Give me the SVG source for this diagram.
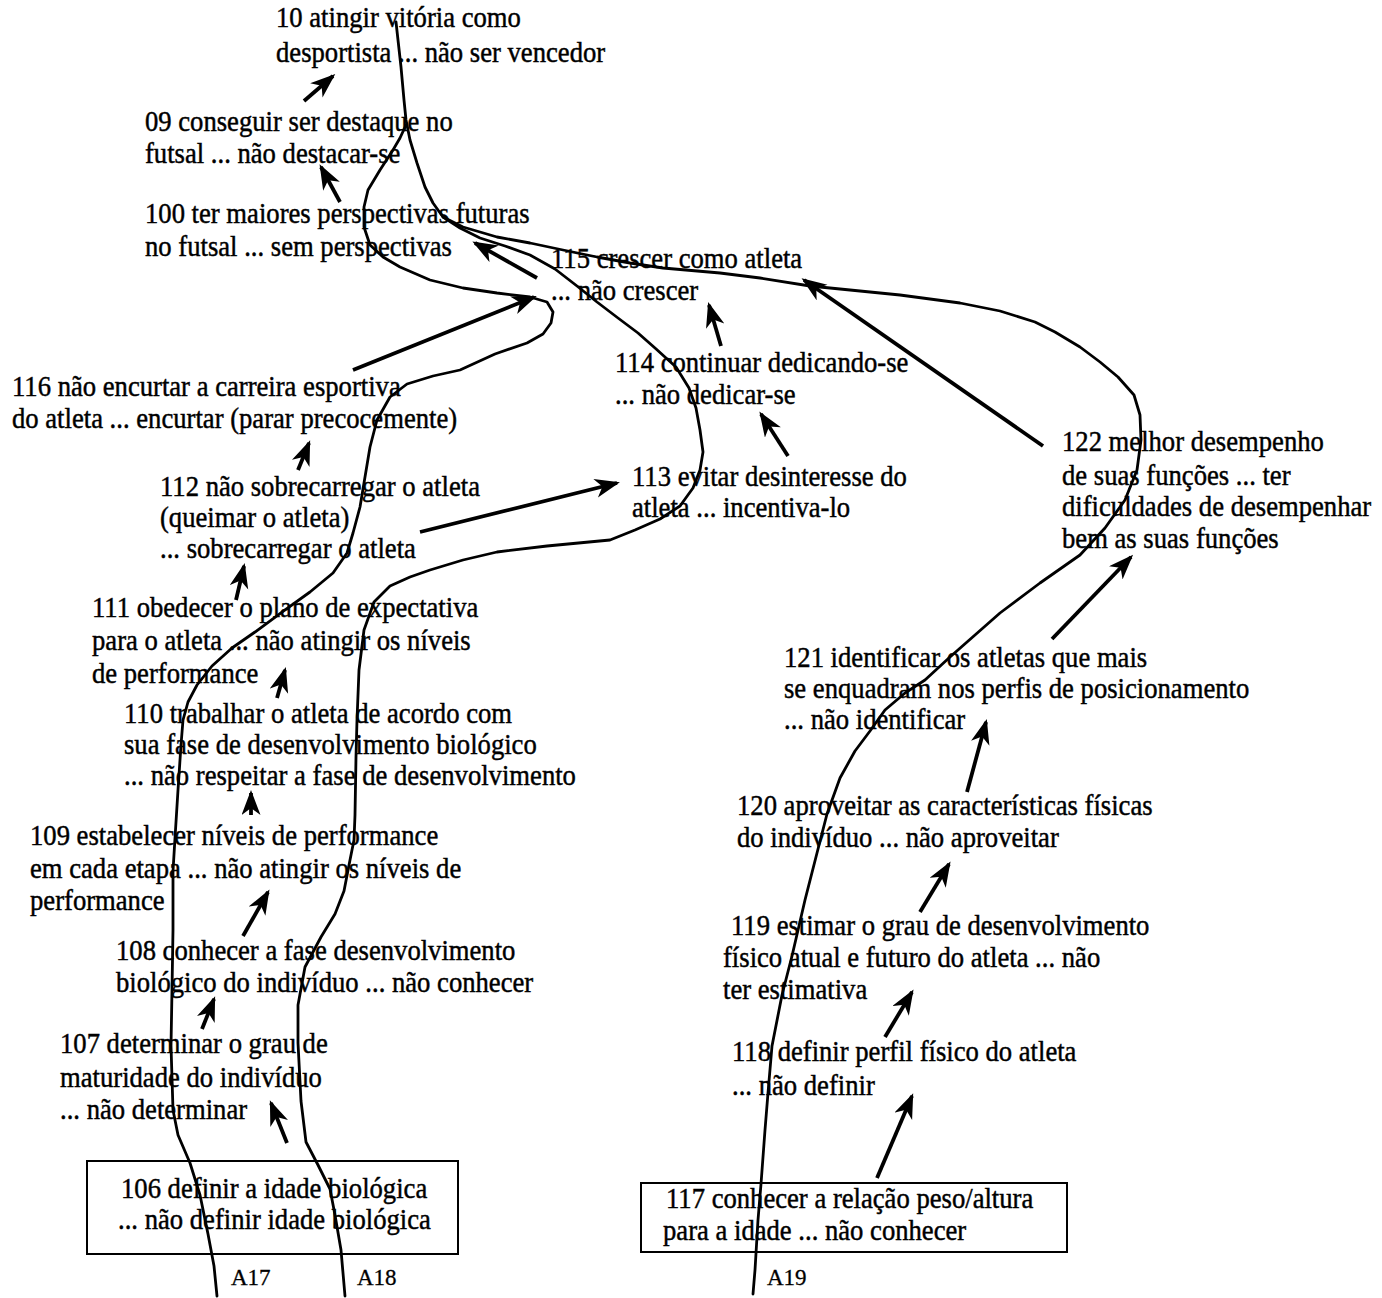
<svg xmlns="http://www.w3.org/2000/svg" width="1382" height="1298" viewBox="0 0 1382 1298">
  <style>
    text { font-family: "Liberation Serif", "Times New Roman", serif; font-size: 28.5px; fill: #000; stroke: #000; stroke-width: 0.45; }
    .lbl { font-size: 23px; stroke-width: 0.3; }
    .box { fill: none; stroke: #000; stroke-width: 2; }
    .route { fill: none; stroke: #000; stroke-width: 2.8; stroke-linejoin: round; stroke-linecap: round; }
    .arrow { fill: none; stroke: #000; stroke-width: 3.8; marker-end: url(#head); }
  </style>
  <defs>
    <marker id="head" markerUnits="userSpaceOnUse" markerWidth="27" markerHeight="20" refX="22" refY="9.5" orient="auto">
      <path d="M0,0 L25,9.5 L0,19 L7,9.5 z" fill="#000"/>
    </marker>
  </defs>
  <rect width="1382" height="1298" fill="#fff"/>

  <!-- concept nodes; each line is set in a slightly condensed serif -->
  <g id="n10">
    <text transform="matrix(.935 0 0 1 276 27)">10 atingir vitória como</text>
    <text transform="matrix(.935 0 0 1 276 62)">desportista ... não ser vencedor</text>
  </g>
  <g id="n09">
    <text transform="matrix(.935 0 0 1 145 131)">09 conseguir ser destaque no</text>
    <text transform="matrix(.935 0 0 1 145 163)">futsal ... não destacar-se</text>
  </g>
  <g id="n100">
    <text transform="matrix(.935 0 0 1 145 223)">100 ter maiores perspectivas futuras</text>
    <text transform="matrix(.935 0 0 1 145 256)">no futsal ... sem perspectivas</text>
  </g>
  <g id="n115">
    <text transform="matrix(.935 0 0 1 551 268)">115 crescer como atleta</text>
    <text transform="matrix(.935 0 0 1 551 300)">... não crescer</text>
  </g>
  <g id="n114">
    <text transform="matrix(.935 0 0 1 615 372)">114 continuar dedicando-se</text>
    <text transform="matrix(.935 0 0 1 615 404)">... não dedicar-se</text>
  </g>
  <g id="n116">
    <text transform="matrix(.935 0 0 1 12 396)">116 não encurtar a carreira esportiva</text>
    <text transform="matrix(.935 0 0 1 12 428)">do atleta ... encurtar (parar precocemente)</text>
  </g>
  <g id="n112">
    <text transform="matrix(.935 0 0 1 160 496)">112 não sobrecarregar o atleta</text>
    <text transform="matrix(.935 0 0 1 160 527)">(queimar o atleta)</text>
    <text transform="matrix(.935 0 0 1 160 558)">... sobrecarregar o atleta</text>
  </g>
  <g id="n113">
    <text transform="matrix(.935 0 0 1 632 486)">113 evitar desinteresse do</text>
    <text transform="matrix(.935 0 0 1 632 517)">atleta ... incentiva-lo</text>
  </g>
  <g id="n122">
    <text transform="matrix(.935 0 0 1 1062 451)">122 melhor desempenho</text>
    <text transform="matrix(.935 0 0 1 1062 485)">de suas funções ... ter</text>
    <text transform="matrix(.935 0 0 1 1062 516)">dificuldades de desempenhar</text>
    <text transform="matrix(.935 0 0 1 1062 548)">bem as suas funções</text>
  </g>
  <g id="n111">
    <text transform="matrix(.935 0 0 1 92 617)">111 obedecer o plano de expectativa</text>
    <text transform="matrix(.935 0 0 1 92 650)">para o atleta ... não atingir os níveis</text>
    <text transform="matrix(.935 0 0 1 92 683)">de performance</text>
  </g>
  <g id="n110">
    <text transform="matrix(.935 0 0 1 124 723)">110 trabalhar o atleta de acordo com</text>
    <text transform="matrix(.935 0 0 1 124 754)">sua fase de desenvolvimento biológico</text>
    <text transform="matrix(.935 0 0 1 124 785)">... não respeitar a fase de desenvolvimento</text>
  </g>
  <g id="n109">
    <text transform="matrix(.935 0 0 1 30 845)">109 estabelecer níveis de performance</text>
    <text transform="matrix(.935 0 0 1 30 878)">em cada etapa ... não atingir os níveis de</text>
    <text transform="matrix(.935 0 0 1 30 910)">performance</text>
  </g>
  <g id="n108">
    <text transform="matrix(.935 0 0 1 116 960)">108 conhecer a fase desenvolvimento</text>
    <text transform="matrix(.935 0 0 1 116 992)">biológico do indivíduo ... não conhecer</text>
  </g>
  <g id="n107">
    <text transform="matrix(.935 0 0 1 60 1053)">107 determinar o grau de</text>
    <text transform="matrix(.935 0 0 1 60 1087)">maturidade do indivíduo</text>
    <text transform="matrix(.935 0 0 1 60 1119)">... não determinar</text>
  </g>
  <g id="n106">
    <rect class="box" x="87" y="1161" width="371" height="93"/>
    <text transform="matrix(.935 0 0 1 121 1198)">106 definir a idade biológica</text>
    <text transform="matrix(.935 0 0 1 118 1229)">... não definir idade biológica</text>
  </g>
  <g id="n121">
    <text transform="matrix(.935 0 0 1 784 667)">121 identificar os atletas que mais</text>
    <text transform="matrix(.935 0 0 1 784 698)">se enquadram nos perfis de posicionamento</text>
    <text transform="matrix(.935 0 0 1 784 729)">... não identificar</text>
  </g>
  <g id="n120">
    <text transform="matrix(.935 0 0 1 737 815)">120 aproveitar as características físicas</text>
    <text transform="matrix(.935 0 0 1 737 847)">do indivíduo ... não aproveitar</text>
  </g>
  <g id="n119">
    <text transform="matrix(.935 0 0 1 731 935)">119 estimar o grau de desenvolvimento</text>
    <text transform="matrix(.935 0 0 1 723 967)">físico atual e futuro do atleta ... não</text>
    <text transform="matrix(.935 0 0 1 723 999)">ter estimativa</text>
  </g>
  <g id="n118">
    <text transform="matrix(.935 0 0 1 732 1061)">118 definir perfil físico do atleta</text>
    <text transform="matrix(.935 0 0 1 732 1095)">... não definir</text>
  </g>
  <g id="n117">
    <rect class="box" x="641" y="1183" width="426" height="69"/>
    <text transform="matrix(.935 0 0 1 666 1208)">117 conhecer a relação peso/altura</text>
    <text transform="matrix(.935 0 0 1 663 1240)">para a idade ... não conhecer</text>
  </g>

  <!-- connectors: freehand routes A17, A18, A19 and the arrows between concepts -->
  <g id="connectors">
    <path id="routeA19" class="route" d="M753,1294 L755,1270 L758,1220 L761,1184 L765,1130 L768,1093 L772,1046 L782,995 L792,956 L805,900 L817,853 L827,814 L840,778 L855,751 L870,731 L885,710 L905,693 L925,680 L950,657 L975,635 L1000,613 L1040,583 L1080,555 L1105,528 L1125,500 L1137,470 L1141,440 L1140,415 L1134,395 L1118,377 L1100,362 L1080,347 L1055,332 L1035,322 L1000,311 L960,303 L900,295 L850,290 L810,286 L760,278 L720,273 L663,268 L630,263 L597,257 L563,250 L530,243 L497,237 L463,227 L443,217 L433,203 L425,187 L417,163 L410,140 L406,120 L404,100 L401,67 L398,40 L396,22"/>
    <path id="routeA17" class="route" d="M217,1296 L214,1266 L208,1234 L200,1195 L190,1163 L178,1135 L173,1110 L171,1046 L172,990 L173,930 L173,871 L175,838 L178,790 L181,745 L183,720 L188,702 L197,685 L212,666 L232,648 L255,632 L282,612 L310,592 L333,573 L347,553 L353,533 L360,507 L365,477 L370,447 L377,420 L390,397 L407,384 L433,376 L460,370 L495,354 L527,343 L543,334 L551,323 L553,312 L547,302 L530,297 L497,293 L463,288 L430,280 L400,267 L383,257 L370,245 L364,227 L364,207 L368,190 L380,170 L393,150 L400,138 L406,125"/>
    <path id="routeA18" class="route" d="M345,1296 L341,1250 L335,1215 L330,1189 L318,1165 L306,1142 L301,1101 L298,1043 L298,1005 L305,967 L321,937 L335,914 L344,891 L350,860 L354,840 L355,815 L356,757 L357,720 L359,670 L364,630 L374,602 L390,586 L410,577 L430,570 L463,560 L497,552 L547,546 L610,540 L635,530 L660,519 L680,506 L693,488 L700,470 L703,452 L700,430 L696,408 L689,388 L676,367 L655,348 L638,333 L618,318 L597,302 L577,286 L555,269 L530,255 L505,246 L480,238 L460,228 L443,217"/>

    <line class="arrow" x1="304" y1="101" x2="333" y2="76"/>
    <line class="arrow" x1="340" y1="202" x2="321" y2="167"/>
    <line class="arrow" x1="537" y1="278" x2="475" y2="243"/>
    <line class="arrow" x1="353" y1="370" x2="534" y2="297"/>
    <line class="arrow" x1="721" y1="346" x2="709" y2="305"/>
    <line class="arrow" x1="788" y1="456" x2="761" y2="414"/>
    <line class="arrow" x1="1043" y1="446" x2="804" y2="280"/>
    <line class="arrow" x1="298" y1="470" x2="309" y2="443"/>
    <line class="arrow" x1="420" y1="532" x2="617" y2="483"/>
    <line class="arrow" x1="236" y1="600" x2="244" y2="566"/>
    <line class="arrow" x1="277" y1="698" x2="285" y2="670"/>
    <line class="arrow" x1="251" y1="815" x2="251" y2="793"/>
    <line class="arrow" x1="243" y1="936" x2="268" y2="892"/>
    <line class="arrow" x1="202" y1="1029" x2="214" y2="999"/>
    <line class="arrow" x1="287" y1="1143" x2="271" y2="1103"/>
    <line class="arrow" x1="877" y1="1178" x2="912" y2="1096"/>
    <line class="arrow" x1="885" y1="1037" x2="912" y2="992"/>
    <line class="arrow" x1="920" y1="912" x2="949" y2="864"/>
    <line class="arrow" x1="967" y1="792" x2="986" y2="722"/>
    <line class="arrow" x1="1052" y1="639" x2="1131" y2="557"/>

    <text class="lbl" x="231" y="1285">A17</text>
    <text class="lbl" x="357" y="1285">A18</text>
    <text class="lbl" x="767" y="1285">A19</text>
  </g>
</svg>
